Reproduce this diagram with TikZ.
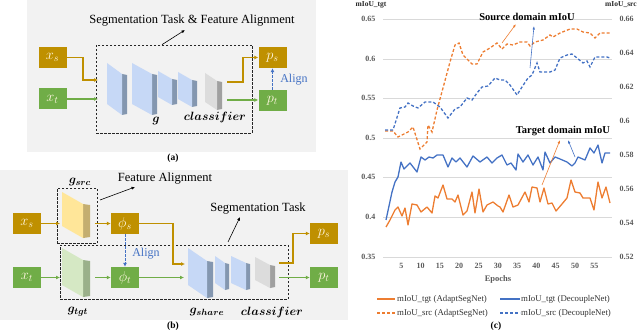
\documentclass[tikz,border=0pt]{standalone}
\usepackage{amsmath}
\usepackage{fontspec}
\setmainfont{Liberation Serif}
\usetikzlibrary{arrows.meta}
\definecolor{gold}{HTML}{BF9000}
\definecolor{grn}{HTML}{70AD47}
\definecolor{blu}{HTML}{4472C4}
\definecolor{org}{HTML}{ED7D31}
\definecolor{panel}{HTML}{F2F2F2}
\definecolor{bfront}{HTML}{C6D8F6}
\definecolor{bside}{HTML}{8497B0}
\definecolor{gfront}{HTML}{DCDCDC}
\definecolor{gside}{HTML}{A0A0A0}
\definecolor{yfront}{HTML}{FFE699}
\definecolor{yside}{HTML}{C4AE70}
\definecolor{lgfront}{HTML}{D5E8C4}
\definecolor{lgside}{HTML}{9AB08A}
\definecolor{axtxt}{HTML}{595959}
\definecolor{gridc}{HTML}{D9D9D9}
\definecolor{boxtxt}{HTML}{FFF6E0}
\newcommand\fmblock[8]{%
 \fill[#8] (#2,#4+#6) -- (#3,#4+#6+1) -- (#3,#5-1) -- (#2,#5) -- cycle;
 \fill[#7] (#1,#4) -- (#2,#4+#6) -- (#2,#5) -- (#1,#5-#6) -- cycle;
}
\tikzset{
 iobox/.style={minimum width=28pt, minimum height=21pt, inner sep=0pt, text=boxtxt, font=\fontsize{14}{14}\selectfont},
 gbox/.style={iobox, fill=gold},
 tbox/.style={iobox, fill=grn},
 gline/.style={gold, line width=1.1pt, -{Latex[length=4pt,width=4pt]}},
 tline/.style={grn, line width=1.1pt, -{Latex[length=4pt,width=4pt]}},
 dbox/.style={draw=black!85, dashed, line width=0.7pt, dash pattern=on 2.5pt off 1.5pt},
 note/.style={font=\fontsize{12.5}{13}\selectfont},
 pointer/.style={black, line width=0.6pt, -{Latex[length=3.5pt,width=3pt]}},
 alignarr/.style={blu, line width=1pt, dash pattern=on 2.5pt off 1.5pt, -{Latex[length=4pt,width=4pt]}},
 mlab/.style={font=\fontsize{12.5}{13}\selectfont},
 plab/.style={font=\bfseries\fontsize{9.5}{10}\selectfont},
 ax/.style={text=axtxt, font=\bfseries\fontsize{8}{8}\selectfont},
 leg/.style={text=black!80, font=\fontsize{8.8}{9}\selectfont, anchor=west, inner sep=1pt},
 osol/.style={org, line width=1.3pt, line join=round},
 bsol/.style={blu, line width=1.3pt, line join=round},
 odash/.style={org, line width=1.3pt, dash pattern=on 3pt off 2pt},
 bdash/.style={blu, line width=1.3pt, dash pattern=on 3pt off 2pt},
 thinarr/.style={line width=0.6pt, -{Latex[length=3.5pt,width=2.5pt]}},
}
\begin{document}
\begin{tikzpicture}[x=1pt,y=-1pt]
\useasboundingbox (0,0) rectangle (640,334);
% ---------------- panel (a)
\fill[panel] (27,0) rectangle (316,152);
\node[plab] (la) at (173,158) {(a)};
\node[dbox, minimum width=156pt, minimum height=88pt, inner sep=0pt] (dA) at (174,89) {};
\node[note] (tA) at (192,21) {Segmentation Task \& Feature Alignment};
\draw[pointer] (dA.north -| 162,0) -- (185,30);
\node[gbox] (xsA) at (52.5,57.5) {$x_s$};
\node[tbox] (xtA) at (52.5,99) {$x_t$};
\node[gbox] (psA) at (272.5,57.5) {$p_s$};
\node[tbox] (ptA) at (272.5,100.5) {$p_t$};
\fmblock{107}{122}{127}{63}{115}{11}{bfront}{bside}
\fmblock{132}{152}{157}{63}{115}{11}{bfront}{bside}
\fmblock{158}{172}{177}{71}{105}{8}{bfront}{bside}
\fmblock{178}{192}{197}{72}{107}{8}{bfront}{bside}
\fmblock{205}{217}{222}{73}{110}{8}{gfront}{gside}
\node[mlab] (gA) at (156,121) {$\boldsymbol{g}$};
\node[mlab] (cA) at (215,118) {$\boldsymbol{classifier}$};
\coordinate (inA) at (98,80);
\coordinate (outsA) at (227,82);
\coordinate (outtA) at (227,100);
\draw[gline] (xsA.east) -- (83,57.5) |- (inA);
\draw[tline] (xtA.east) -- (xtA.east -| inA);
\draw[gline] (outsA) -- (243,82) |- (psA.west);
\draw[tline] (outtA) -- (outtA -| ptA.west);
\draw[alignarr] (ptA.north) -- (psA.south);
\node[text=blu, font=\fontsize{12}{12}\selectfont] (alA) at (294,80) {Align};
% ---------------- panel (b)
\fill[panel] (0,170) rectangle (348,320);
\node[plab] (lb) at (173,326) {(b)};
\node[dbox, minimum width=40pt, minimum height=55pt, inner sep=0pt] (dsrc) at (77,215.5) {};
\node[dbox, minimum width=228pt, minimum height=54pt, inner sep=0pt] (dshare) at (174,272) {};
\fmblock{62}{83}{90}{192}{238}{12}{yfront}{yside}
\fmblock{62}{83}{90}{248}{297}{12}{lgfront}{lgside}
\fmblock{188}{207}{213}{248}{298}{13}{bfront}{bside}
\fmblock{215}{225}{229}{256}{290}{7}{bfront}{bside}
\fmblock{231}{246}{250}{256}{290}{7}{bfront}{bside}
\fmblock{255}{270}{275}{257}{288}{8}{gfront}{gside}
\node[mlab] (gsrc) at (80,182) {$\boldsymbol{g_{src}}$};
\node[mlab] (gtgt) at (78,312) {$\boldsymbol{g_{tgt}}$};
\node[mlab] (gshare) at (207,312) {$\boldsymbol{g_{share}}$};
\node[mlab] (cB) at (272,312) {$\boldsymbol{classifier}$};
\node[note] (tFA) at (165,179) {Feature Alignment};
\node[note] (tST) at (258,209) {Segmentation Task};
\draw[pointer] (100,200) -- (135,187);
\draw[pointer] (228,242) -- (240,217);
\node[gbox] (xsB) at (27,223.5) {$x_s$};
\node[tbox] (xtB) at (27,277.5) {$x_t$};
\node[gbox] (phs) at (125,223.5) {$\phi_s$};
\node[tbox] (pht) at (125,277.5) {$\phi_t$};
\node[gbox] (psB) at (324,233.5) {$p_s$};
\node[tbox] (ptB) at (324,277.5) {$p_t$};
\coordinate (srcin) at (60,223.5);
\coordinate (srcout) at (95,223.5);
\coordinate (tgtin) at (60,277.5);
\coordinate (tgtout) at (95,277.5);
\coordinate (shin) at (185,264);
\coordinate (shint) at (184,277.5);
\coordinate (shouts) at (279,263);
\coordinate (shoutt) at (279,277.5);
\draw[gline] (xsB.east) -- (srcin);
\draw[gline] (srcout) -- (phs.west);
\draw[gline] (phs.east) -- (173,223.5) |- (shin);
\draw[tline] (xtB.east) -- (tgtin);
\draw[tline] (tgtout) -- (pht.west);
\draw[tline] (pht.east) -- (shint);
\draw[gline] (shouts) -- (293,263) |- (psB.west);
\draw[tline] (shoutt) -- (ptB.west);
\draw[alignarr] (phs.south) -- (pht.north);
\node[text=blu, font=\fontsize{12}{12}\selectfont] (alB) at (146,254) {Align};
% ---------------- panel (c)
\foreach \yy in {19,59,98,138,177,217,257} \draw[gridc, line width=0.6pt] (383,\yy) -- (612,\yy);
\foreach \v/\yy in {0.65/19,0.6/59,0.55/98,0.5/138,0.45/177,0.4/217,0.35/257}
  \node[ax, anchor=east] at (379,\yy) {\v};
\foreach \v/\yy in {0.66/19,0.64/53,0.62/87,0.6/121,0.58/155,0.56/189,0.54/223,0.52/257}
  \node[ax, anchor=west] at (616,\yy) {\v};
\foreach \e in {5,10,...,55} \node[ax] at ({382+3.86*\e},266) {\e};
\node[ax, font=\bfseries\fontsize{8.5}{9}\selectfont] (ep) at (498,279) {Epochs};
\node[text=black!85, font=\bfseries\fontsize{7.5}{8}\selectfont] (yl) at (371,5) {mIoU\_tgt};
\node[text=black!85, font=\bfseries\fontsize{7.5}{8}\selectfont] (yr) at (621,5) {mIoU\_src};
\draw[odash] plot coordinates {(385,131)(393,131)(398,137)(408,132)(413,127)(420,149)(427,142)(428,125)(432,132)(437,110)(443,88)(450,62)(455,45)(459,43)(463,55)(472,64)(477,64)(483,52)(490,48)(497,43)(502,49)(507,44)(513,45)(520,42)(527,42)(530,46)(535,42)(543,40)(550,35)(553,37)(560,33)(570,29)(577,29)(583,32)(590,33)(595,38)(600,33)(610,33)};
\draw[bdash] plot coordinates {(385,130)(393,130)(400,108)(405,107)(408,103)(413,106)(418,108)(425,102)(433,102)(440,107)(448,118)(455,109)(460,107)(467,98)(472,100)(477,93)(482,87)(488,86)(495,78)(500,80)(505,80)(510,85)(517,95)(522,87)(528,78)(532,75)(537,63)(540,72)(550,72)(555,70)(560,58)(567,55)(572,54)(577,58)(583,63)(587,61)(590,67)(595,57)(600,57)(607,57)(610,58)};
\draw[bsol] plot coordinates {(386,220)(392,192)(395,182)(398,177)(401,162)(404,169)(410,163)(417,172)(421,157)(425,160)(429,157)(433,158)(437,155)(443,155)(448,167)(452,158)(456,162)(460,158)(467,167)(473,156)(480,162)(487,157)(492,163)(497,158)(502,155)(507,165)(511,163)(516,170)(518,154)(523,162)(528,155)(533,165)(538,157)(543,170)(545,152)(550,163)(555,157)(560,159)(567,162)(572,166)(575,163)(578,157)(585,160)(590,148)(594,153)(598,145)(602,163)(605,153)(610,153)};
\draw[osol] plot coordinates {(386,227)(390,220)(395,210)(398,207)(402,216)(405,208)(408,225)(412,204)(417,205)(421,212)(427,207)(432,213)(435,196)(438,198)(443,185)(447,199)(452,199)(455,202)(458,195)(463,215)(467,211)(472,192)(475,213)(479,189)(483,212)(487,205)(493,202)(498,206)(500,207)(503,212)(509,195)(513,207)(518,205)(525,192)(529,202)(532,187)(537,188)(540,202)(544,188)(548,204)(552,203)(556,211)(562,204)(567,198)(571,180)(575,192)(580,193)(583,198)(590,198)(594,210)(598,182)(602,198)(606,187)(610,203)};
\node[font=\bfseries\fontsize{10.5}{11}\selectfont] (srcA) at (527,17) {Source domain mIoU};
\node[font=\bfseries\fontsize{10.5}{11}\selectfont] (tgtA) at (563,131) {Target domain mIoU};
\coordinate (a1) at (502,43); \coordinate (a2) at (530,68);
\coordinate (a3) at (542,185); \coordinate (a4) at (575,157);
\draw[thinarr, org] (a1) -- (516,24);
\draw[thinarr, blu] (a2) -- (534,26);
\draw[thinarr, org] (a3) -- (560,140);
\draw[thinarr, blu] (a4) -- (568,140);
% legend
\draw[osol] (377,299) -- (395,299); \node[leg] (l1) at (396,299) {mIoU\_tgt (AdaptSegNet)};
\draw[bsol] (500,299) -- (520,299); \node[leg] (l2) at (520,299) {mIoU\_tgt (DecoupleNet)};
\draw[odash] (377,313) -- (395,313); \node[leg] (l3) at (396,313) {mIoU\_src (AdaptSegNet)};
\draw[bdash] (500,313) -- (520,313); \node[leg] (l4) at (520,313) {mIoU\_src (DecoupleNet)};
\node[plab] (lc) at (496,326) {(c)};
\end{tikzpicture}
\end{document}
